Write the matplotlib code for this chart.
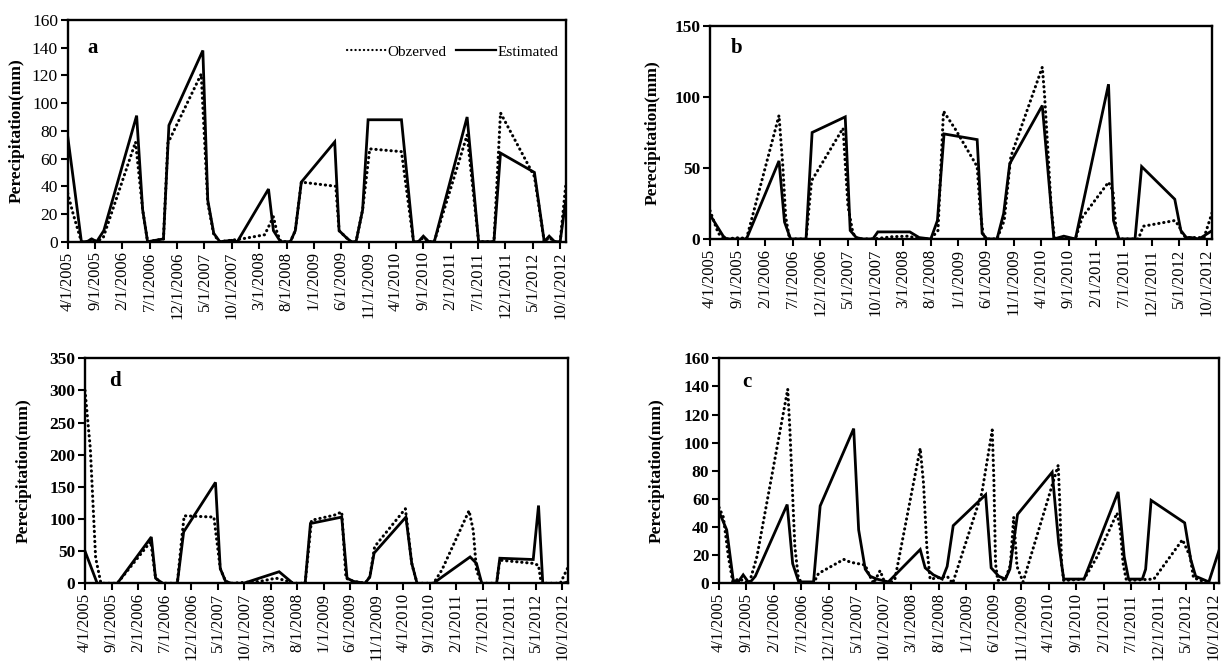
import matplotlib
matplotlib.use("Agg")
import matplotlib.pyplot as plt
from matplotlib.lines import Line2D

plt.rcParams["font.family"] = ["Liberation Serif", "DejaVu Serif"]

# x positions are months counted from 4/1/2005
date_labels = ["4/1/2005", "9/1/2005", "2/1/2006", "7/1/2006", "12/1/2006",
               "5/1/2007", "10/1/2007", "3/1/2008", "8/1/2008", "1/1/2009",
               "6/1/2009", "11/1/2009", "4/1/2010", "9/1/2010", "2/1/2011",
               "7/1/2011", "12/1/2011", "5/1/2012", "10/1/2012"]
date_ticks = list(range(0, 91, 5))

# panel a
a_est_x = [0, 1.2, 2.5, 3.5, 4.4, 5.3, 6.6, 12.6, 13.7, 14.6, 17.5, 18.5, 24.7, 25.6,
           26.7, 27.8, 30, 31, 36.7, 37.6, 38.9, 40.7, 41.6, 42.7, 48.8, 49.6, 50.9,
           51.8, 52.7, 53.9, 54.9, 61, 63.2, 64.1, 65, 66, 67, 73, 75.1, 77.9, 79.1,
           85.3, 87.1, 88, 89, 90, 91]
a_est_y = [76, 40, 0, 0, 2, 0, 8, 91, 23, 0, 2, 84, 138, 30, 6, 0, 1, 0, 38, 8, 0,
           0, 8, 43, 72, 8, 3, 0, 0, 23, 88, 88, 0, 0, 4, 0, 0, 90, 0, 0, 64, 50, 0,
           4, 0, 0, 29]
a_obs_x = [0, 1, 2.5, 3.5, 4.4, 5.3, 6.5, 12.4, 13.7, 14.6, 17.5, 18.3, 24.4, 25.6,
           26.7, 27.8, 31.8, 36, 37.6, 38.3, 39, 40.7, 41.6, 42.7, 49, 49.6, 50.9,
           51.8, 52.7, 53.9, 55.2, 61, 63.2, 64.1, 65, 66, 67, 73, 75.1, 77.9, 79.1,
           85.3, 87.1, 88, 89, 90, 91]
a_obs_y = [35, 20, 0, 0, 2, 0, 3, 72, 23, 0, 2, 71, 121, 28, 5, 0, 2, 5, 18, 6, 0,
           0, 8, 43, 40, 8, 3, 0, 0, 23, 67, 65, 0, 0, 3, 0, 0, 77, 0, 0, 93, 47, 0,
           3, 0, 0, 40]

# panel b
b_est_x = [0, 2.4, 3, 6.6, 12.5, 13.5, 14.6, 17.4, 18.5, 24.5, 25.4, 26.5, 27.7,
           29.5, 30.4, 36.2, 37.9, 40, 41.2, 42.4, 48.4, 49.3, 50.2, 52, 53.2, 54.3,
           60.2, 62.3, 64.1, 66.2, 72.2, 73.1, 74.1, 77, 78.2, 84.2, 85.3, 86.3,
           87.2, 88.6, 91]
b_est_y = [17, 2, 0, 0, 55, 12, 0, 0, 75, 86, 6, 1, 0, 0, 5, 5, 1, 0, 13, 74, 70,
           4, 0, 0, 18, 53, 94, 0, 2, 0, 109, 13, 0, 0, 51, 28, 6, 1, 1, 0, 6]
b_obs_x = [0, 1.5, 2.7, 5.5, 6.6, 12.5, 13.2, 13.7, 14.4, 17.4, 18.4, 24.1, 25,
           25.9, 26.8, 29.5, 33, 36, 37.9, 40, 41.3, 42.3, 44.5, 46.9, 48.4, 49,
           49.6, 52, 53.3, 54.5, 60.2, 60.6, 61.2, 61.8, 62.4, 66.2, 67.4, 72.2, 73,
           73.5, 74, 77.6, 78.5, 84.2, 85, 85.6, 86.3, 89.5, 91]
b_obs_y = [20, 4, 0, 1, 0, 87, 51, 16, 0, 0, 41, 78, 23, 4, 0, 0, 1.6, 2, 0, 0,
           6, 90, 77, 61, 51, 18, 0, 0, 13, 58, 121, 102, 63, 23, 0, 0, 15, 40, 34,
           9, 0, 0, 9, 13, 9, 3, 1, 1, 19]

# panel d
d_est_x = [0, 2.3, 6.1, 12.5, 13.3, 14.6, 17.4, 18.6, 24.6, 25.5, 26.5, 27.6, 29.9,
           36.6, 39.2, 41.5, 42.5, 48.4, 49.4, 50.6, 52.8, 53.7, 54.5, 60.5, 61.6,
           62.6, 65.7, 67, 72.6, 73.8, 74.8, 77.6, 78.2, 84.5, 85.5, 86.3, 90, 91]
d_est_y = [50, 0, 0, 72, 8, 0, 0, 80, 157, 23, 3, 0, 0, 18, 0, 0, 93, 103, 8, 3, 0,
           10, 47, 103, 31, 0, 0, 8, 41, 31, 0, 0, 39, 37, 121, 0, 0, 2]
d_obs_x = [0, 1, 2, 3, 6.1, 12.4, 13.3, 14.6, 17.4, 18.3, 18.7, 24.3, 25.5, 26.5,
           27.6, 33, 36, 37.5, 39.4, 41.5, 42.7, 47, 48.4, 49.2, 50.6, 52.8, 53.7,
           54.6, 60.4, 61.6, 62.6, 65.7, 67.3, 72.4, 73.2, 73.8, 74.8, 77.6, 78.2,
           84.5, 85.5, 86, 89.6, 91]
d_obs_y = [300, 210, 40, 0, 0, 65, 8, 0, 0, 75, 105, 103, 23, 3, 0, 3, 8, 5, 0, 0,
           98, 106, 111, 8, 3, 0, 10, 57, 116, 31, 0, 0, 21, 113, 82, 20, 0, 0, 36,
           31, 28, 0, 0, 24]

# panel c
c_est_x = [0, 1.4, 2.6, 3.5, 4.4, 5.5, 6.6, 12.4, 13.4, 14.5, 17.2, 18.4, 24.5,
           25.4, 26.6, 27.5, 28.7, 30.8, 36.6, 37.5, 39, 40.6, 41.5, 42.6, 48.5,
           49.5, 50.9, 52.1, 52.9, 54.3, 60.6, 61.8, 62.7, 66.4, 72.6, 73.7, 74.5,
           77, 77.6, 78.6, 84.7, 85.8, 86.7, 87.9, 89.1, 91]
c_est_y = [51, 38, 2, 1, 6, 0, 5, 56, 14, 1, 1, 55, 110, 38, 10, 5, 3, 1, 24, 11,
           6, 3, 12, 41, 63, 11, 5, 3, 10, 49, 79, 28, 3, 3, 65, 19, 3, 3, 10, 59,
           43, 17, 5, 3, 1, 24]
c_obs_x = [0, 0.8, 1.7, 2.5, 3.5, 4.4, 5.5, 6.9, 12.5, 12.9, 13.4, 13.8, 14.4, 15,
           17.2, 18.1, 22.7, 23.9, 26.6, 27.2, 28.1, 29.3, 30, 31, 32, 36.6, 37.2,
           37.8, 38.4, 41.5, 42.5, 47.8, 49.7, 50, 50.3, 50.7, 52.1, 53, 53.6, 54.2,
           55.3, 61.7, 62, 62.3, 62.7, 66.4, 68.8, 72.4, 73, 73.5, 74.1, 79.1, 84.3,
           85.7, 86.3, 89, 91]
c_obs_y = [54, 47, 19, 1, 3, 2, 0, 19, 138, 109, 62, 26, 5, 0, 0, 7, 17, 15, 13, 7,
           0, 9, 2, 0, 3, 96, 71, 26, 3, 5, 0, 64, 109, 73, 14, 2, 3, 13, 47, 12, 1,
           84, 56, 14, 2, 3, 19, 50, 38, 14, 2, 3, 31, 19, 4, 0, 0]

W, H = 1224, 667
DOTS = (0, (0.1, 1.55))


def make_axes(fig, left, right, top, bottom):
    return fig.add_axes([left / W, 1 - bottom / H, (right - left) / W, (bottom - top) / H])


def draw_panel(ax, est_x, est_y, obs_x, obs_y, ymax, ystep, letter, bold_ticks,
               label_x, letter_xy):
    ax.plot(obs_x, obs_y, color="black", lw=2.2, linestyle=DOTS,
            dash_capstyle="round")
    ax.plot(est_x, est_y, color="black", lw=2.0, solid_joinstyle="miter")
    ax.set_xlim(0, 91)
    ax.set_ylim(0, ymax)
    ax.set_yticks(range(0, ymax + 1, ystep))
    ax.set_xticks(date_ticks)
    ax.set_xticklabels(date_labels, rotation=90, fontsize=12)
    weight = "bold" if bold_ticks else "normal"
    for t in ax.get_yticklabels():
        t.set_fontsize(12.5)
        t.set_fontweight(weight)
    ax.tick_params(direction="out", length=5, width=1.5, pad=2)
    for s in ax.spines.values():
        s.set_linewidth(1.7)
    ax.set_ylabel("Perecipitation(mm)", fontsize=12.5, fontweight="bold")
    ax.yaxis.set_label_coords(label_x, 0.5)
    ax.text(letter_xy[0], letter_xy[1], letter, transform=ax.transAxes,
            fontsize=15, fontweight="bold", va="center", ha="left")


fig = plt.figure(figsize=(W / 100, H / 100), dpi=100)

ax_a = make_axes(fig, 67.7, 565.6, 20, 241.7)
draw_panel(ax_a, a_est_x, a_est_y, a_obs_x, a_obs_y, 160, 20, "a", False,
           -0.086, (0.04, 0.875))
handles = [Line2D([], [], color="black", lw=1.6, linestyle=(0, (0.1, 1.8)),
                  dash_capstyle="round"),
           Line2D([], [], color="black", lw=1.6)]
ax_a.legend(handles, ["Obzerved", "Estimated"], ncol=2, loc="center right",
            bbox_to_anchor=(0.985, 0.856), frameon=False, fontsize=11,
            handlelength=2.6, handletextpad=0.1, columnspacing=0.6,
            borderpad=0, borderaxespad=0)

ax_b = make_axes(fig, 710, 1212.3, 26, 239)
draw_panel(ax_b, b_est_x, b_est_y, b_obs_x, b_obs_y, 150, 50, "b", True,
           -0.098, (0.042, 0.895))

ax_d = make_axes(fig, 85, 567.7, 358.3, 583.3)
draw_panel(ax_d, d_est_x, d_est_y, d_obs_x, d_obs_y, 350, 50, "d", True,
           -0.11, (0.05, 0.9))

ax_c = make_axes(fig, 719, 1219.3, 358.3, 583.3)
draw_panel(ax_c, c_est_x, c_est_y, c_obs_x, c_obs_y, 160, 20, "c", True,
           -0.108, (0.046, 0.895))

fig.savefig("out.png", dpi=100)
